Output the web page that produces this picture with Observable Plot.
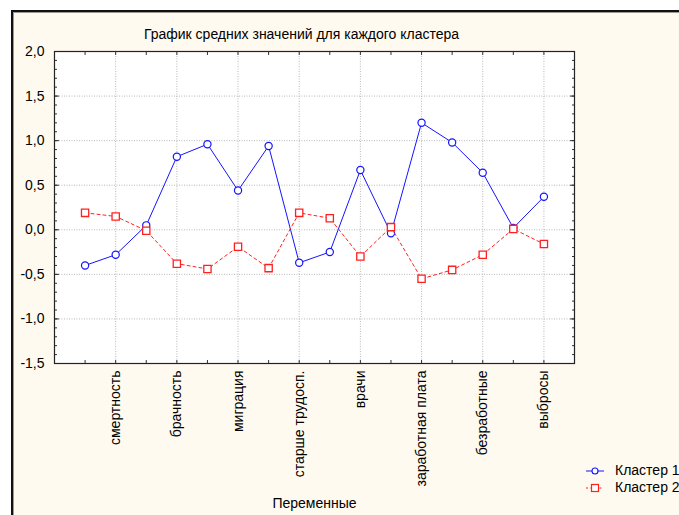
<!DOCTYPE html>
<html>
<head>
<meta charset="utf-8">
<script src="https://cdn.jsdelivr.net/npm/d3@7"></script>
<script src="https://cdn.jsdelivr.net/npm/@observablehq/plot@0.6"></script>
<style>
  html, body { margin: 0; padding: 0; background: #ffffff; }
  #wrap { position: relative; width: 679px; height: 515px; overflow: hidden; font-family: "Liberation Sans", Arial, sans-serif; }
  #panel { position: absolute; left: 11px; top: 10px; right: 0; bottom: 0; background: #fffaef;
           border-top: 2px solid #111; border-left: 2px solid #111; box-shadow: inset 1px 1px 0 #9a9a90; }
  #chart { position: absolute; left: 0; top: 0; }
  #legend { position: absolute; left: 586px; top: 462px; font-size: 14px; color: #000; line-height: 17px; }
  #legend div { display: flex; align-items: center; white-space: nowrap; }
  #legend svg { margin-right: 11px; }
</style>
</head>
<body>
<div id="wrap">
  <div id="panel"></div>
  <div id="chart"></div>
  <div id="legend"></div>
</div>
<script>
// Variables (x positions 1..16); only every second name is printed on the axis
const variables = ["", "смертность", "", "брачность", "", "миграция", "", "старше трудосп.",
                   "", "врачи", "", "заработная плата", "", "безработные", "", "выбросы"];
const cluster1 = [-0.40, -0.28, 0.05, 0.82, 0.96, 0.44, 0.94, -0.37, -0.25, 0.67, -0.04, 1.20, 0.98, 0.64, 0.02, 0.37];
const cluster2 = [0.19, 0.15, -0.01, -0.38, -0.44, -0.19, -0.43, 0.19, 0.13, -0.30, 0.03, -0.55, -0.45, -0.28, 0.01, -0.16];
const seriesNames = ["Кластер 1", "Кластер 2"];
const yMajor = [-1.5, -1.0, -0.5, 0.0, 0.5, 1.0, 1.5, 2.0];
const title = "График средних значений для каждого кластера";
const xTitle = "Переменные";

const idx = variables.map((_, i) => i + 1);
const d1 = cluster1.map((v, i) => ({i: i + 1, v}));
const d2 = cluster2.map((v, i) => ({i: i + 1, v}));
const yMinor = d3.range(-15, 21).map(k => k / 10);
const labelIdx = idx.filter(i => variables[i - 1] !== "");
const fmt = d => d.toFixed(1).replace(".", ",");

const blue = "#1414ff", red = "#ff2020";

const chart = Plot.plot({
  width: 679, height: 515,
  marginLeft: 54, marginRight: 105, marginTop: 51, marginBottom: 152,
  style: {background: "transparent", fontFamily: "'Liberation Sans', Arial, sans-serif", fontSize: "14px", color: "#000"},
  x: {type: "linear", domain: [0, idx.length + 1]},
  y: {domain: [-1.5, 2.0]},
  marks: [
    Plot.frame({fill: "#ffffff", stroke: "none"}),
    Plot.gridY(yMajor.slice(1, -1), {stroke: "#b8b8b8", strokeOpacity: 1, strokeDasharray: "1,1.5"}),
    Plot.gridX(labelIdx, {stroke: "#b8b8b8", strokeOpacity: 1, strokeDasharray: "1,1.5"}),
    // inward minor ticks
    Plot.axisY({ticks: yMinor, tickSize: -3, tickFormat: () => "", label: null, stroke: "#333"}),
    Plot.axisY({anchor: "right", ticks: yMinor, tickSize: -3, tickFormat: () => "", label: null, stroke: "#333"}),
    Plot.axisY({ticks: yMajor, tickSize: -5, tickFormat: () => "", label: null, stroke: "#333"}),
    Plot.axisY({anchor: "right", ticks: yMajor, tickSize: -5, tickFormat: () => "", label: null, stroke: "#333"}),
    Plot.axisX({anchor: "top", ticks: idx, tickSize: -3, tickFormat: () => "", label: null, stroke: "#333"}),
    Plot.axisX({anchor: "bottom", ticks: idx, tickSize: -3, tickFormat: () => "", label: null, stroke: "#333"}),
    // tick labels
    Plot.axisY({ticks: yMajor, tickSize: 0, tickPadding: 10, tickFormat: fmt, label: null, fontSize: 14}),
    Plot.axisX({anchor: "bottom", ticks: labelIdx, tickSize: 0, tickPadding: 7, tickRotate: -90,
                tickFormat: i => variables[i - 1], label: null, fontSize: 14}),
    Plot.frame({stroke: "#222", strokeWidth: 1.2}),
    // series
    Plot.line(d1, {x: "i", y: "v", stroke: blue, strokeWidth: 1}),
    Plot.dot(d1, {x: "i", y: "v", r: 3.6, fill: "#fff", stroke: blue, strokeWidth: 1.2}),
    Plot.line(d2, {x: "i", y: "v", stroke: red, strokeWidth: 1, strokeDasharray: "3,3"}),
    Plot.dot(d2, {x: "i", y: "v", symbol: "square", r: 4.1, fill: "#fff", stroke: red, strokeWidth: 1.3}),
    // titles
    Plot.text([title], {frameAnchor: "top", dy: -22, dx: -13, text: d => d, fontSize: 14, fill: "#000"}),
    Plot.text([xTitle], {frameAnchor: "bottom", dy: 144, text: d => d, fontSize: 14, fill: "#000"})
  ]
});
document.getElementById("chart").appendChild(chart);

// legend
const legend = document.getElementById("legend");
seriesNames.forEach((name, k) => {
  const row = document.createElement("div");
  const c = k === 0 ? blue : red;
  const sym = k === 0
    ? `<circle cx="9" cy="6" r="3" fill="#fff" stroke="${c}" stroke-width="1.1"/>`
    : `<rect x="5.5" y="2.5" width="7" height="7" fill="#fff" stroke="${c}" stroke-width="1.2"/>`;
  const line = k === 0
    ? `<line x1="0" y1="6" x2="18" y2="6" stroke="${c}"/>`
    : `<line x1="0" y1="6" x2="18" y2="6" stroke="${c}" stroke-dasharray="2,2.5"/>`;
  row.innerHTML = `<svg width="18" height="12">${line}${sym}</svg><span>${name}</span>`;
  legend.appendChild(row);
});
</script>
</body>
</html>
